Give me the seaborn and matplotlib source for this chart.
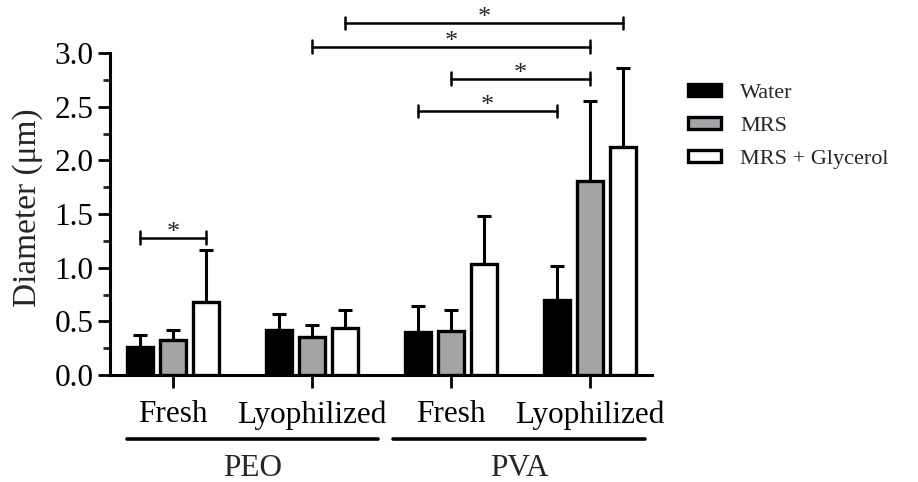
import numpy as np
import pandas as pd
import matplotlib
matplotlib.use("Agg")
import matplotlib.pyplot as plt
import matplotlib.transforms as mtransforms
from matplotlib.patches import Patch
from matplotlib.ticker import MultipleLocator, FormatStrFormatter
import seaborn as sns

# ---------------- data ----------------
conditions = ["PEO Fresh", "PEO Lyophilized", "PVA Fresh", "PVA Lyophilized"]
tick_labels = ["Fresh", "Lyophilized", "Fresh", "Lyophilized"]
polymers = ["PEO", "PVA"]
media = ["Water", "MRS", "MRS + Glycerol"]

water_mean = [0.26, 0.42, 0.40, 0.70]
water_sd = [0.11, 0.15, 0.24, 0.32]
mrs_mean = [0.33, 0.35, 0.41, 1.81]
mrs_sd = [0.09, 0.12, 0.20, 0.74]
gly_mean = [0.68, 0.44, 1.03, 2.12]
gly_sd = [0.48, 0.17, 0.45, 0.74]

# significance brackets: (condition A, medium A, condition B, medium B, height)
sig_pairs = [
    ("PEO Fresh", "Water", "PEO Fresh", "MRS + Glycerol", 1.28),
    ("PVA Fresh", "Water", "PVA Lyophilized", "Water", 2.46),
    ("PVA Fresh", "MRS", "PVA Lyophilized", "MRS", 2.76),
    ("PEO Lyophilized", "MRS", "PVA Lyophilized", "MRS", 3.06),
    ("PEO Lyophilized", "MRS + Glycerol", "PVA Lyophilized", "MRS + Glycerol", 3.28),
]

means = {"Water": water_mean, "MRS": mrs_mean, "MRS + Glycerol": gly_mean}
sds = {"Water": water_sd, "MRS": mrs_sd, "MRS + Glycerol": gly_sd}

rows = []
for m in media:
    for c, mu, sd in zip(conditions, means[m], sds[m]):
        rows.append({"condition": c, "medium": m, "mean": mu, "sd": sd})
df = pd.DataFrame(rows)

# ---------------- style ----------------
sns.set_style("ticks")
plt.rcParams["font.family"] = ["Liberation Serif", "DejaVu Serif"]

colors = ["#000000", "#a3a3a8", "#ffffff"]

fig = plt.figure(figsize=(9.18, 4.82), dpi=100)
ax = fig.add_axes([110 / 918, 107 / 482, (652 - 110) / 918, (375 - 53) / 482])

sns.barplot(data=df, x="condition", y="mean", hue="medium",
            order=conditions, hue_order=media, palette=colors,
            edgecolor="black", linewidth=2.4, width=0.71, gap=0.2,
            errorbar=None, legend=False, ax=ax, zorder=3)

# error bars (upper only) + bar-centre lookup
centers = {}
for m, cont in zip(media, ax.containers):
    xs, ys = [], []
    for c, bar in zip(conditions, cont):
        xc = bar.get_x() + bar.get_width() / 2
        centers[(c, m)] = xc
        xs.append(xc)
        ys.append(bar.get_height())
    sd = np.array(sds[m])
    ax.errorbar(xs, ys, yerr=[np.zeros_like(sd), sd], fmt="none",
                ecolor="black", elinewidth=2.2, capsize=5, capthick=2.2,
                zorder=2)

ax.set_xlim(-0.453, 3.446)
ax.set_ylim(0, 3.0)
ax.yaxis.set_major_locator(MultipleLocator(0.5))
ax.yaxis.set_minor_locator(MultipleLocator(0.25))
ax.yaxis.set_major_formatter(FormatStrFormatter("%.1f"))
ax.set_xticks(range(len(conditions)))
ax.set_xticklabels(tick_labels)
ax.tick_params(axis="both", which="major", length=9, width=2.0,
               labelsize=22.5, color="black", labelcolor="black", pad=3)
ax.tick_params(axis="y", which="minor", length=5, width=2.0)
ax.tick_params(axis="x", pad=9)
for s in ["left", "bottom"]:
    ax.spines[s].set_linewidth(2.2)
    ax.spines[s].set_color("black")
sns.despine(ax=ax)
ax.set_xlabel("")
ax.set_ylabel("Diameter (μm)", fontsize=24)
ax.yaxis.set_label_coords(-0.124, 0.52)

# significance brackets
for ca, ma, cb, mb, h in sig_pairs:
    x1, x2 = centers[(ca, ma)], centers[(cb, mb)]
    ax.plot([x1, x2], [h, h], color="black", lw=1.8, clip_on=False, zorder=5)
    for xx in (x1, x2):
        ax.plot([xx, xx], [h - 0.06, h + 0.06], color="black", lw=1.8,
                clip_on=False, zorder=5)
    ax.text((x1 + x2) / 2, h - 0.012, "*", ha="center", va="baseline",
            fontsize=19, clip_on=False)

# polymer group lines + labels
trans = mtransforms.blended_transform_factory(ax.transData, ax.transAxes)
group_spans = [(-0.331, 1.475), (1.583, 3.396)]
for p, (x_lo, x_hi) in zip(polymers, group_spans):
    ax.plot([x_lo, x_hi], [-0.198, -0.198], color="black", lw=2.6,
            transform=trans, clip_on=False)
    ax.text((x_lo + x_hi) / 2, -0.29, p, ha="center", va="center",
            fontsize=22.5, transform=trans)

# legend
handles = [Patch(facecolor=col, edgecolor="black", linewidth=2.4, label=m)
           for col, m in zip(colors, media)]
fig.legend(handles=handles, loc="upper left",
           bbox_to_anchor=(677 / 918, 1 - 73 / 482), frameon=False,
           fontsize=16, handlelength=1.5, handleheight=0.45,
           handletextpad=0.85, labelspacing=0.62, borderpad=0)

fig.savefig("out.png", dpi=100)
